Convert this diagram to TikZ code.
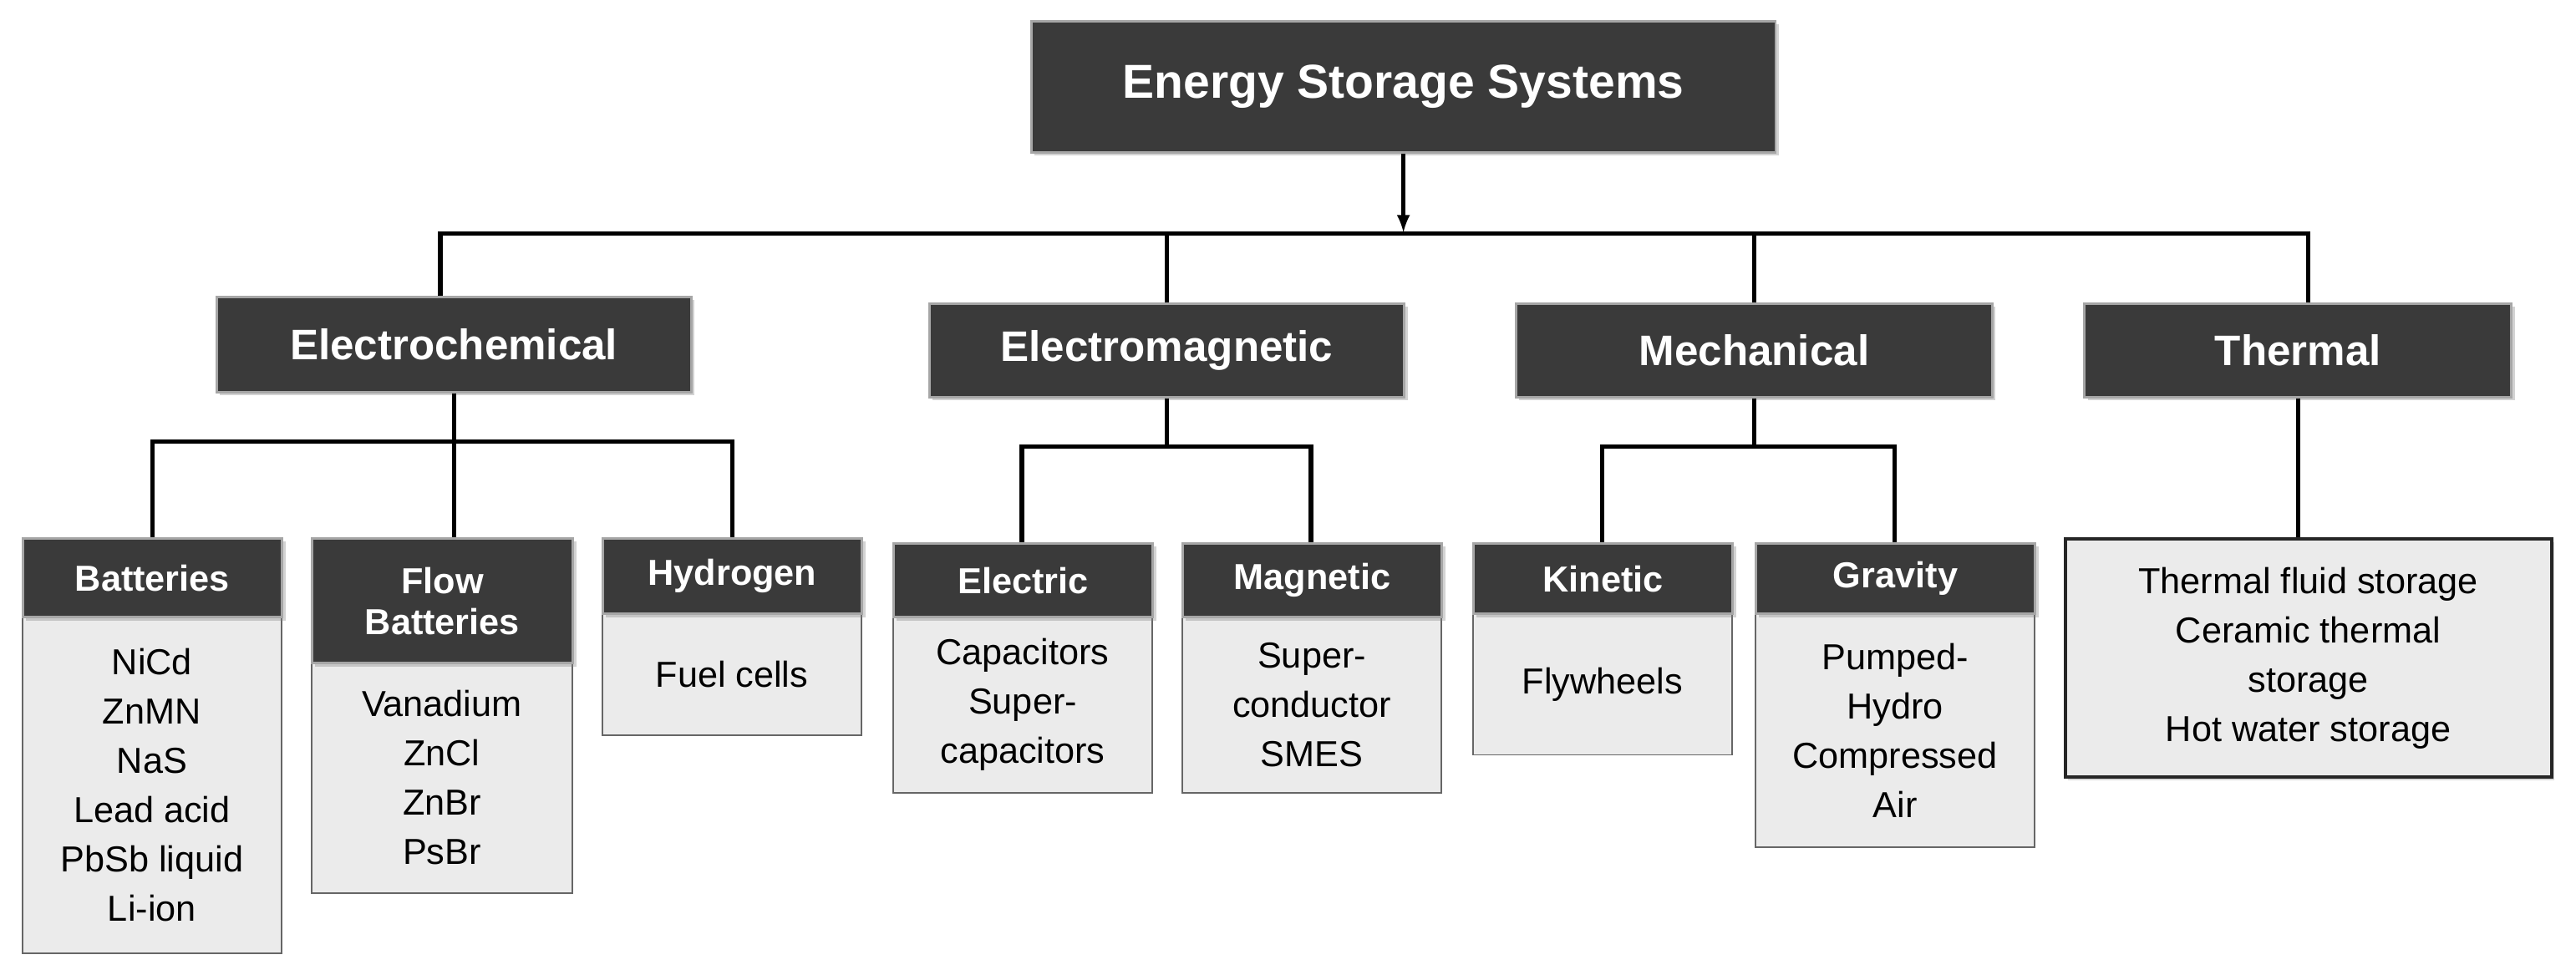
\documentclass[tikz,border=0pt]{standalone}
\usepackage{fontspec}
\setmainfont{Liberation Sans}
\usetikzlibrary{shadows}
\definecolor{dk}{HTML}{3A3A3A}
\definecolor{lt}{HTML}{EBEBEB}
\begin{document}
\begin{tikzpicture}[x=1pt,y=-1pt,
  dark/.style={fill=dk,draw=gray!70,line width=1.5pt,text=white,font=\bfseries,align=center,inner sep=0pt,drop shadow={opacity=0.35,shadow xshift=2pt,shadow yshift=-2pt}},
  body/.style={fill=lt,draw=gray!80!black,line width=1pt,align=center,inner sep=0pt,font=\fontsize{22}{30}\selectfont},
  hd/.style={dark,font=\fontsize{22}{28}\selectfont\bfseries},
  ln/.style={line width=2.6pt}]
\useasboundingbox (0,0) rectangle (1568,590);
\node[dark,minimum width=453,minimum height=80,anchor=north west,font=\fontsize{29}{34}\selectfont\bfseries] (top) at (627,12) {Energy Storage Systems};
\node[dark,minimum width=289,minimum height=58,anchor=north west,font=\fontsize{26}{30}\selectfont\bfseries] (ec) at (131,180) {Electrochemical};
\node[dark,minimum width=289,minimum height=57,anchor=north west,font=\fontsize{26}{30}\selectfont\bfseries] (em) at (565,184) {Electromagnetic};
\node[dark,minimum width=290,minimum height=57,anchor=north west,font=\fontsize{26}{30}\selectfont\bfseries] (me) at (922,184) {Mechanical};
\node[dark,minimum width=260,minimum height=57,anchor=north west,font=\fontsize{26}{30}\selectfont\bfseries] (th) at (1268,184) {Thermal};
% level 3
\node[body,minimum width=158,minimum height=205,anchor=north west] (batB) at (13,375) {NiCd\\ZnMN\\NaS\\Lead acid\\PbSb liquid\\Li-ion};
\node[hd,minimum width=158,minimum height=48,anchor=north west] (bat) at (13,327) {Batteries};
\node[body,minimum width=159,minimum height=140,anchor=north west] (flB) at (189,403) {Vanadium\\ZnCl\\ZnBr\\PsBr};
\node[hd,minimum width=159,minimum height=76,anchor=north west] (fl) at (189,327) {Flow\\[-3pt]Batteries};
\node[body,minimum width=158,minimum height=74,anchor=north west] (hyB) at (366,373) {Fuel cells};
\node[hd,minimum width=158,minimum height=46,anchor=north west] (hy) at (366,327) {Hydrogen};
\node[body,minimum width=158,minimum height=107,anchor=north west] (elB) at (543,375) {Capacitors\\Super-\\capacitors};
\node[hd,minimum width=158,minimum height=45,anchor=north west] (el) at (543,330) {Electric};
\node[body,minimum width=158,minimum height=107,anchor=north west] (mgB) at (719,375) {Super-\\conductor\\SMES};
\node[hd,minimum width=158,minimum height=45,anchor=north west] (mg) at (719,330) {Magnetic};
\node[body,minimum width=158,minimum height=86,anchor=north west] (kiB) at (896,373) {Flywheels};
\node[hd,minimum width=158,minimum height=43,anchor=north west] (ki) at (896,330) {Kinetic};
\node[body,minimum width=170,minimum height=142,anchor=north west] (grB) at (1068,373) {Pumped-\\Hydro\\Compressed\\Air};
\node[hd,minimum width=170,minimum height=43,anchor=north west] (gr) at (1068,330) {Gravity};
\node[body,draw=black!85,line width=2pt,minimum width=296,minimum height=145,anchor=north west,drop shadow={opacity=0.3,shadow xshift=2pt,shadow yshift=-2pt}] (thB) at (1256,327) {Thermal fluid storage\\Ceramic thermal\\storage\\Hot water storage};
% connectors
\coordinate (b1) at (268,142); \coordinate (b2) at (1405,142);
\draw[ln,-latex] (top.south) -- ++(0,48);
\draw[ln] (ec.north -| b1) -- (b1) -- (b2) -- (th.north -| b2);
\draw[ln] (em.north) -- (em.north |- b1);
\draw[ln] (me.north) -- (me.north |- b1);
\coordinate (c1) at (93,269); \coordinate (c2) at (446,269);
\draw[ln] (bat.north -| c1) -- (c1) -- (c2) -- (hy.north -| c2);
\draw[ln] (ec.south) -- (fl.north -| ec.south);
\coordinate (d1) at (622,272); \coordinate (d2) at (798,272);
\draw[ln] (em.south) -- (em.south |- d1);
\draw[ln] (el.north -| d1) -- (d1) -- (d2) -- (mg.north -| d2);
\coordinate (e1) at (975,272); \coordinate (e2) at (1153,272);
\draw[ln] (me.south) -- (me.south |- e1);
\draw[ln] (ki.north -| e1) -- (e1) -- (e2) -- (gr.north -| e2);
\draw[ln] (th.south) -- (thB.north -| th.south);
\end{tikzpicture}
\end{document}
